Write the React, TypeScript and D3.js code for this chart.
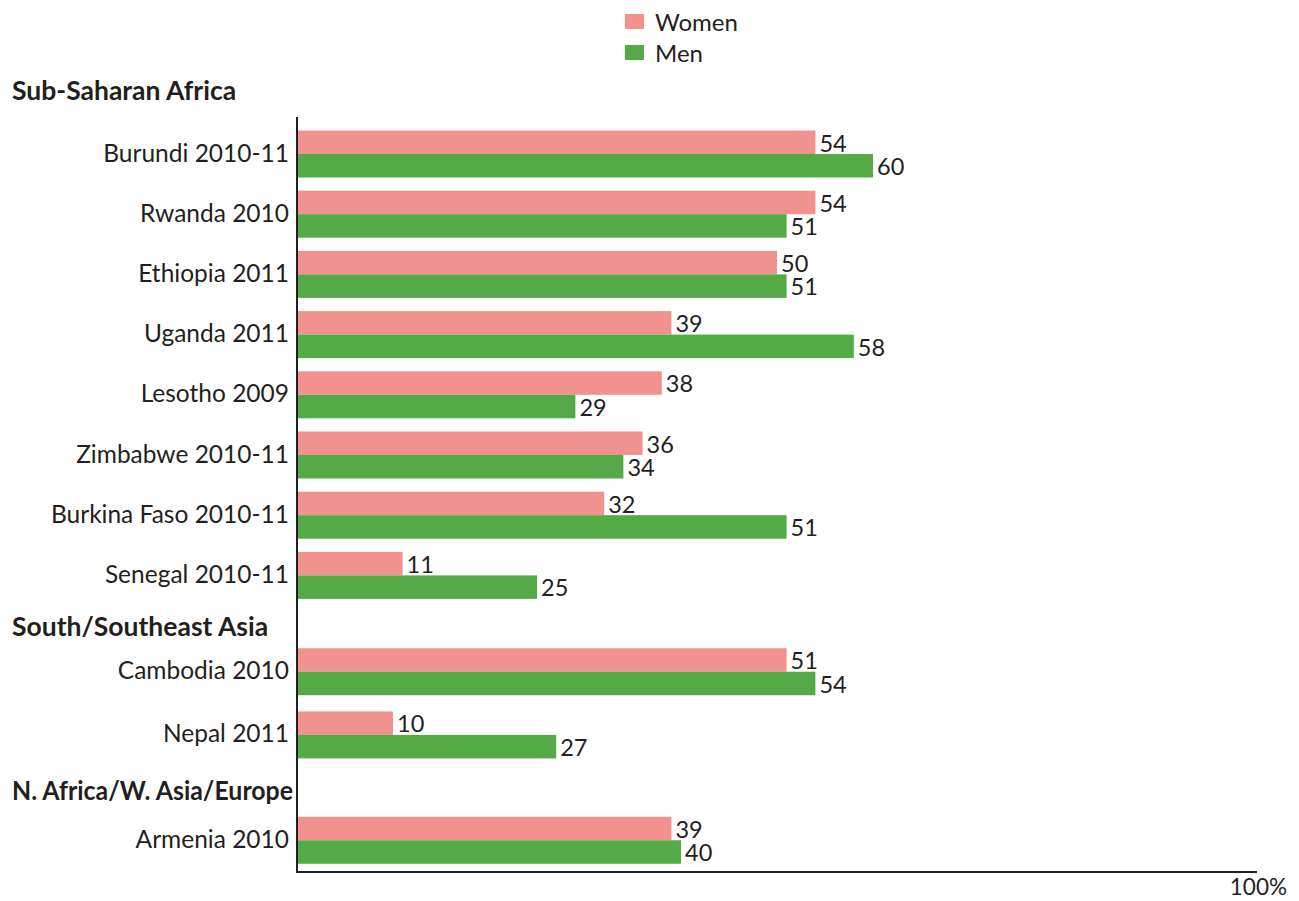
import React, { useRef, useEffect } from "react";
import * as d3 from "d3";

// data
const countries = [
  "Burundi 2010-11",
  "Rwanda 2010",
  "Ethiopia 2011",
  "Uganda 2011",
  "Lesotho 2009",
  "Zimbabwe 2010-11",
  "Burkina Faso 2010-11",
  "Senegal 2010-11",
  "Cambodia 2010",
  "Nepal 2011",
  "Armenia 2010",
];
const regions = ["Sub-Saharan Africa", "South/Southeast Asia", "N. Africa/W. Asia/Europe"];
const countryRegion = [0, 0, 0, 0, 0, 0, 0, 0, 1, 1, 2];
const women = [54, 54, 50, 39, 38, 36, 32, 11, 51, 10, 39];
const men = [60, 51, 51, 58, 29, 34, 51, 25, 54, 27, 40];
const seriesNames = ["Women", "Men"];
const axisEndLabel = "100%";

const WIDTH = 1299;
const HEIGHT = 901;
const PINK = "#f1928f";
const GREEN = "#54aa47";
const INK = "#231f20";
const FONT = "Lato, 'Open Sans', sans-serif";

const App = () => {
  const svgRef = useRef<SVGSVGElement | null>(null);

  useEffect(() => {
    const svg = d3.select(svgRef.current);
    svg.selectAll("*").remove();

    // slot layout: one slot per country, extra gap before each new region
    const regionGap = [0, 0.6, 0.75];
    const slots: number[] = [];
    const headerSlots: number[] = [-1.05];
    let pos = 0;
    countries.forEach((c, i) => {
      if (i > 0 && countryRegion[i] !== countryRegion[i - 1]) {
        const g = regionGap[countryRegion[i]];
        headerSlots.push(pos - 1 + (1 + g) / 2 + 0.05);
        pos += g;
      } else if (i > 0 && countryRegion[i] === 1) {
        pos += 0.05; // asia rows sit a touch wider apart
      }
      slots.push(pos);
      pos += 1;
    });

    const x = d3.scaleLinear().domain([0, 100]).range([297, 1257]);
    const y = d3.scaleLinear().domain([0, 1]).range([154, 214.2]);
    const barH = 23.5;

    const data = countries.map((name, i) => ({
      name,
      slot: slots[i],
      values: [women[i], men[i]],
    }));

    // bars
    const rows = svg.append("g").selectAll("g.row").data(data).join("g").attr("class", "row");

    rows
      .selectAll("rect")
      .data(d => d.values.map((v, k) => ({ v, k, slot: d.slot })))
      .join("rect")
      .attr("x", x(0))
      .attr("y", d => y(d.slot) + (d.k === 0 ? -barH : 0))
      .attr("width", d => x(d.v) - x(0))
      .attr("height", barH)
      .attr("fill", d => (d.k === 0 ? PINK : GREEN));

    rows
      .selectAll("text.value")
      .data(d => d.values.map((v, k) => ({ v, k, slot: d.slot })))
      .join("text")
      .attr("class", "value")
      .attr("x", d => x(d.v) + 4)
      .attr("y", d => y(d.slot) + (d.k === 0 ? -2.5 : barH - 2.5))
      .attr("font-family", FONT)
      .attr("font-size", 23.5)
      .attr("fill", INK)
      .text(d => d.v);

    // country labels
    rows
      .append("text")
      .attr("x", 289)
      .attr("y", d => y(d.slot) + 7.5)
      .attr("text-anchor", "end")
      .attr("font-family", FONT)
      .attr("font-size", 24.5)
      .attr("fill", INK)
      .text(d => d.name);

    // region headers, squeezed to stay left of the axis
    const maxHeader = x(0) - 16;
    svg
      .append("g")
      .selectAll("text")
      .data(regions)
      .join("text")
      .attr("x", 12)
      .attr("y", (d, i) => y(headerSlots[i]) + 9.5)
      .attr("font-family", FONT)
      .attr("font-weight", "bold")
      .attr("font-size", 26.5)
      .attr("fill", INK)
      .text(d => d)
      .each(function () {
        const t = this as SVGTextElement;
        if (t.getComputedTextLength() > maxHeader) {
          t.setAttribute("textLength", String(maxHeader));
          t.setAttribute("lengthAdjust", "spacingAndGlyphs");
        }
      });

    // axes
    const yTop = 117;
    const yBottom = 872;
    svg
      .append("path")
      .attr("d", `M${x(0)},${yTop}V${yBottom}H${x(100)}`)
      .attr("fill", "none")
      .attr("stroke", INK)
      .attr("stroke-width", 2);

    svg
      .append("text")
      .attr("x", 1287)
      .attr("y", 895)
      .attr("text-anchor", "end")
      .attr("font-family", FONT)
      .attr("font-size", 22.5)
      .attr("fill", INK)
      .text(axisEndLabel);

    // legend
    const legend = svg
      .append("g")
      .selectAll("g")
      .data(seriesNames)
      .join("g")
      .attr("transform", (d, i) => `translate(625,${14 + i * 31})`);
    legend
      .append("rect")
      .attr("width", 19)
      .attr("height", 15)
      .attr("fill", (d, i) => (i === 0 ? PINK : GREEN));
    legend
      .append("text")
      .attr("x", 30)
      .attr("y", 16.5)
      .attr("font-family", FONT)
      .attr("font-size", 24)
      .attr("fill", INK)
      .text(d => d);
  }, []);

  return (
    <svg
      ref={svgRef}
      width={WIDTH}
      height={HEIGHT}
      style={{ position: "absolute", left: 0, top: 0, background: "#fff" }}
    />
  );
};

export default App;
